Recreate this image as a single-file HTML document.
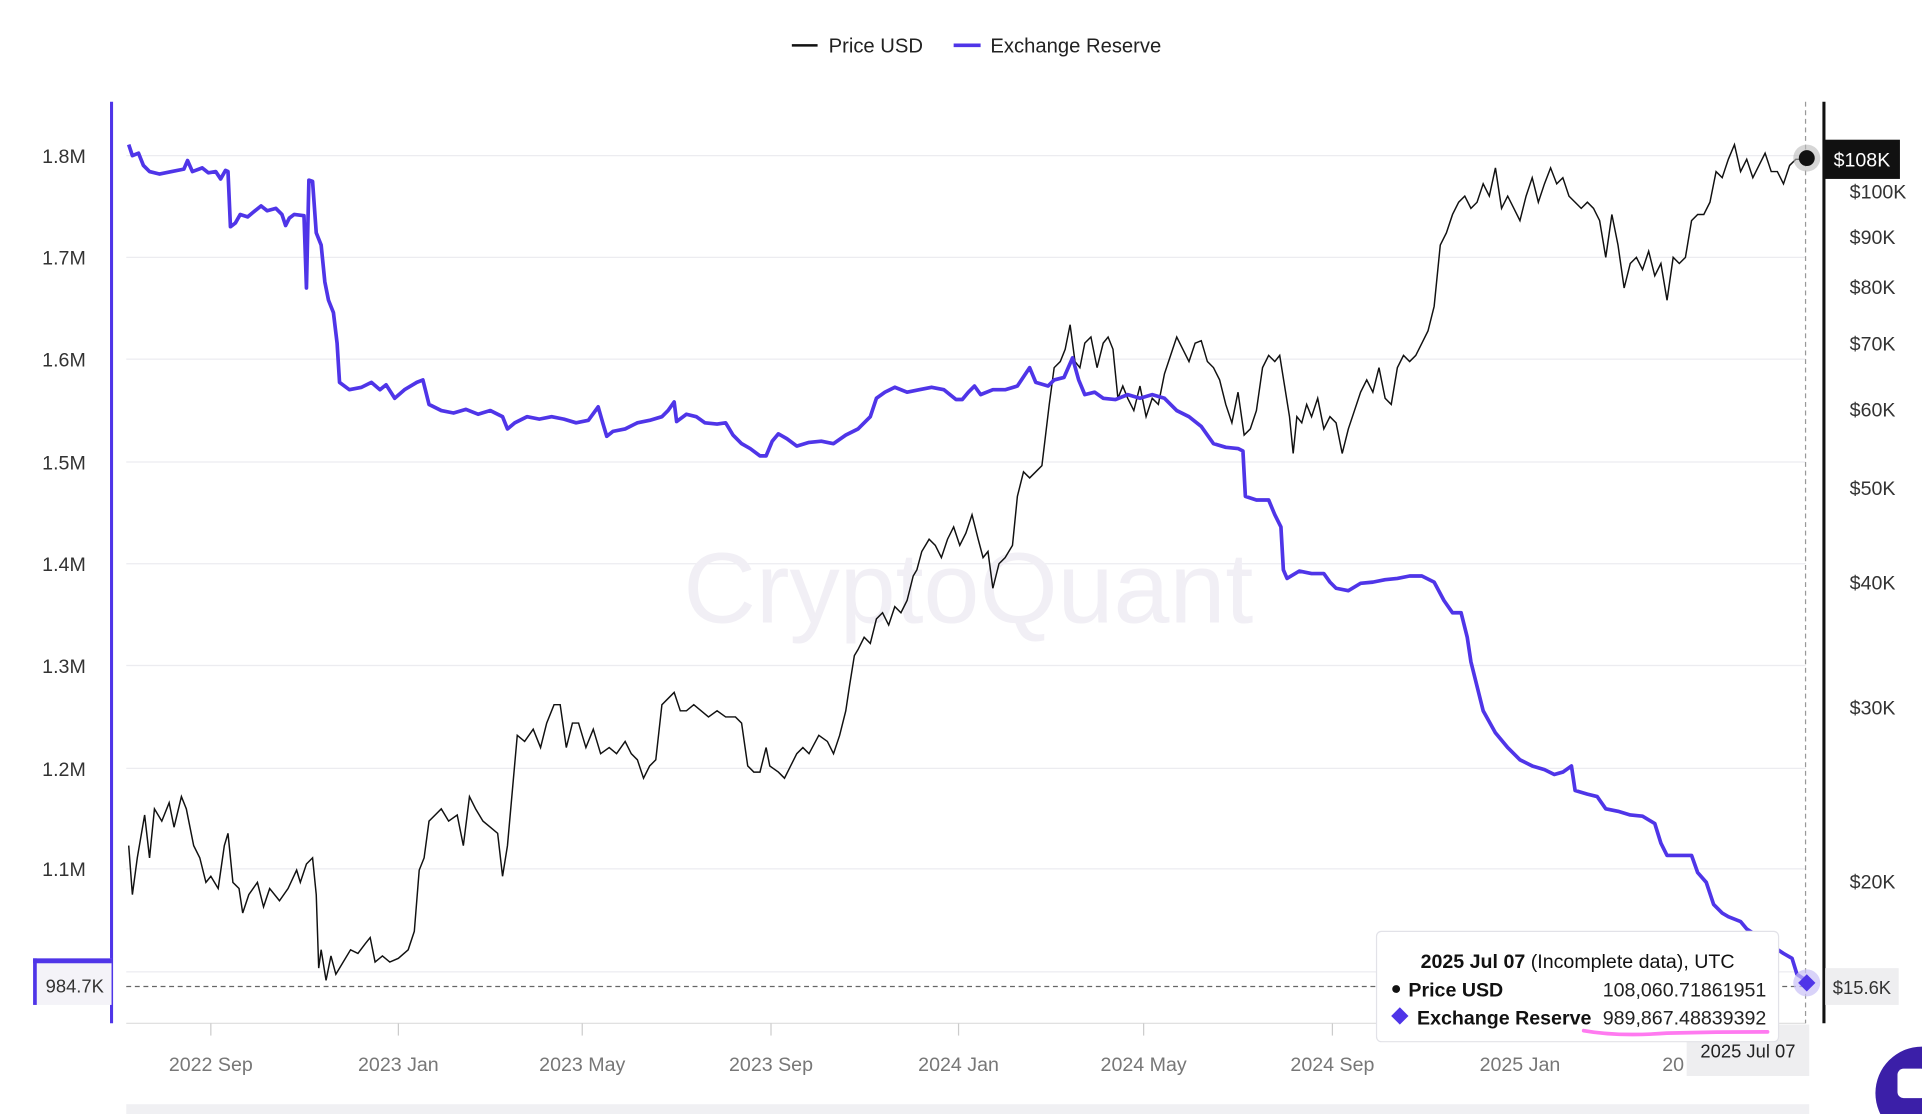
<!DOCTYPE html>
<html><head><meta charset="utf-8"><style>
html,body{margin:0;padding:0;background:#fff;width:1922px;height:1114px;overflow:hidden}
svg{display:block}
text{font-family:"Liberation Sans",sans-serif}
</style></head><body>
<svg width="1922" height="1114" viewBox="0 0 1568 909" preserveAspectRatio="none" xmlns="http://www.w3.org/2000/svg">
<rect width="1568" height="909" fill="#fff"/>
<!-- legend -->
<line x1="646" y1="37" x2="667" y2="37" stroke="#111" stroke-width="2"/>
<text x="676" y="43" font-size="16.5" fill="#222">Price USD</text>
<line x1="778" y1="37" x2="800" y2="37" stroke="#4f35e8" stroke-width="3"/>
<text x="808" y="43" font-size="16.5" fill="#222">Exchange Reserve</text>
<!-- grid -->
<g stroke="#ececf0" stroke-width="1">
<line x1="103" y1="127" x2="1473" y2="127"/><line x1="103" y1="210" x2="1473" y2="210"/>
<line x1="103" y1="293" x2="1473" y2="293"/><line x1="103" y1="377" x2="1473" y2="377"/>
<line x1="103" y1="460" x2="1473" y2="460"/><line x1="103" y1="543" x2="1473" y2="543"/>
<line x1="103" y1="627" x2="1473" y2="627"/><line x1="103" y1="709" x2="1473" y2="709"/>
<line x1="103" y1="793" x2="1473" y2="793"/>
</g>
<text x="790" y="508" font-size="82" fill="#f1eff5" text-anchor="middle">CryptoQuant</text>
<!-- left axis labels -->
<g font-size="16" fill="#333" text-anchor="end">
<text x="70" y="133">1.8M</text><text x="70" y="216">1.7M</text><text x="70" y="299">1.6M</text>
<text x="70" y="383">1.5M</text><text x="70" y="466">1.4M</text><text x="70" y="549">1.3M</text>
<text x="70" y="633">1.2M</text><text x="70" y="715">1.1M</text>
</g>
<!-- right labels -->
<g font-size="16" fill="#333">
<text x="1509" y="162">$100K</text><text x="1509" y="199">$90K</text><text x="1509" y="240">$80K</text>
<text x="1509" y="286">$70K</text><text x="1509" y="340">$60K</text><text x="1509" y="404">$50K</text>
<text x="1509" y="481">$40K</text><text x="1509" y="583">$30K</text><text x="1509" y="725">$20K</text>
</g>
<line x1="91" y1="83" x2="91" y2="835" stroke="#4f35e8" stroke-width="2.5"/>
<line x1="1488" y1="83" x2="1488" y2="835" stroke="#111" stroke-width="2.5"/>
<line x1="103" y1="835" x2="1473" y2="835" stroke="#ddd" stroke-width="1"/>
<line x1="1473" y1="83" x2="1473" y2="835" stroke="#999" stroke-dasharray="4,3" stroke-width="1"/>
<line x1="103" y1="805" x2="1473" y2="805" stroke="#666" stroke-dasharray="4,3" stroke-width="1"/>
<!-- x ticks -->
<g stroke="#ccc"><line x1="172" y1="835" x2="172" y2="845"/><line x1="325" y1="835" x2="325" y2="845"/><line x1="475" y1="835" x2="475" y2="845"/><line x1="629" y1="835" x2="629" y2="845"/><line x1="782" y1="835" x2="782" y2="845"/><line x1="933" y1="835" x2="933" y2="845"/><line x1="1087" y1="835" x2="1087" y2="845"/><line x1="1240" y1="835" x2="1240" y2="845"/></g>
<g font-size="16" fill="#777" text-anchor="middle">
<text x="172" y="874">2022 Sep</text><text x="325" y="874">2023 Jan</text><text x="475" y="874">2023 May</text>
<text x="629" y="874">2023 Sep</text><text x="782" y="874">2024 Jan</text><text x="933" y="874">2024 May</text>
<text x="1087" y="874">2024 Sep</text><text x="1240" y="874">2025 Jan</text><text x="1365" y="874">20</text>
</g>
<rect x="103" y="901" width="1373" height="8" fill="#f0f0f3"/>
<!-- price -->
<polyline fill="none" stroke="#111" stroke-width="1.2" points="105,690 108,730 112,700 118,665 122,700 126,660 132,670 138,655 142,675 148,650 152,660 158,690 163,700 168,720 172,715 178,725 183,690 186,680 190,720 195,725 198,745 203,730 210,720 215,740 220,725 228,735 235,725 242,710 245,720 250,705 255,700 258,730 260,790 262,775 266,800 270,780 274,795 280,785 286,775 292,778 298,770 302,765 306,785 312,780 318,785 325,782 333,775 338,760 342,710 346,700 350,670 355,665 360,660 366,670 373,665 378,690 383,650 388,660 394,670 400,675 406,680 410,715 414,690 418,645 422,600 428,605 435,595 441,610 446,590 452,575 457,575 462,610 467,590 472,590 478,610 484,595 490,615 497,610 503,615 510,605 515,615 520,620 525,635 530,625 535,620 540,575 545,570 550,565 555,580 560,580 566,575 572,580 578,585 585,580 592,585 600,585 605,590 610,625 615,630 620,630 625,610 628,625 635,630 640,635 645,625 650,615 655,610 660,615 668,600 675,605 680,615 685,600 690,580 693,560 697,535 700,530 705,520 710,525 715,505 720,500 725,510 730,495 735,500 740,490 745,470 748,465 752,450 758,440 763,445 768,455 773,440 778,430 783,445 788,435 793,420 798,440 802,455 806,450 810,480 815,460 820,455 826,445 830,405 835,385 840,390 845,385 850,380 853,355 856,330 860,300 865,295 869,285 873,265 877,295 881,300 885,280 890,275 895,300 900,280 904,275 908,285 912,325 916,315 920,325 925,335 930,315 935,340 940,325 945,330 950,305 955,290 960,275 965,285 970,295 975,280 980,278 985,295 990,300 995,310 1000,330 1005,345 1010,320 1015,355 1020,350 1025,335 1030,300 1035,290 1040,295 1044,290 1048,315 1052,340 1055,370 1058,340 1062,345 1066,330 1070,340 1075,325 1080,350 1085,340 1090,345 1095,370 1100,350 1105,335 1110,320 1115,310 1120,320 1125,300 1130,325 1135,330 1140,300 1145,290 1150,295 1155,290 1160,280 1165,270 1170,250 1175,200 1180,190 1185,175 1190,165 1195,160 1200,170 1205,165 1210,150 1215,160 1220,137 1225,170 1230,160 1235,170 1240,180 1245,160 1250,145 1255,165 1260,150 1265,137 1270,150 1275,145 1280,160 1285,165 1290,170 1295,165 1300,170 1305,180 1310,210 1315,175 1320,200 1325,235 1330,215 1335,210 1340,220 1345,205 1350,225 1355,215 1360,245 1365,210 1370,215 1375,210 1380,180 1385,175 1390,175 1395,165 1400,140 1405,145 1410,130 1415,118 1420,140 1425,130 1430,145 1435,135 1440,125 1445,140 1450,140 1455,150 1460,135 1465,130 1470,130 1475,129"/>
<!-- reserve -->
<polyline fill="none" stroke="#4f35e8" stroke-width="3" stroke-linejoin="round" points="105,118 108,127 113,125 117,135 122,140 130,142 140,140 150,138 153,131 157,140 165,137 170,141 176,140 180,146 184,139 186,140 188,185 192,182 196,175 202,177 208,172 213,168 218,172 225,170 230,175 233,184 236,178 240,175 248,176 250,235 252,147 255,148 258,190 262,200 265,230 268,245 272,255 275,280 277,312 285,318 295,316 303,312 310,318 315,314 322,325 330,318 340,312 345,310 350,330 360,335 370,337 380,334 390,338 400,335 410,340 414,350 420,345 430,340 440,342 450,340 460,342 470,345 480,343 488,332 492,346 495,356 500,352 510,350 520,345 530,343 540,340 545,335 550,328 552,344 560,338 568,340 575,345 585,346 592,345 598,355 605,362 612,366 620,372 625,372 630,360 635,354 642,358 650,364 660,361 670,360 680,362 690,355 700,350 710,340 715,325 722,320 730,316 740,320 750,318 760,316 770,318 780,326 785,326 790,320 795,315 800,322 810,318 820,318 830,315 840,300 845,312 855,315 860,310 868,308 875,292 880,310 885,322 893,320 900,325 910,326 920,322 930,325 940,322 950,325 960,335 970,340 980,348 985,355 990,362 1000,365 1010,366 1014,368 1016,405 1025,408 1035,408 1040,420 1045,430 1047,465 1050,472 1060,466 1070,468 1080,468 1085,475 1090,480 1100,482 1110,476 1120,475 1130,473 1140,472 1150,470 1160,470 1170,475 1178,490 1185,500 1192,500 1197,520 1200,540 1205,560 1210,580 1220,598 1230,610 1240,620 1250,625 1260,628 1268,632 1275,630 1282,625 1285,645 1295,648 1303,650 1310,660 1320,662 1330,665 1340,666 1350,672 1355,688 1360,698 1370,698 1380,698 1385,712 1392,720 1398,738 1405,745 1410,748 1420,752 1425,758 1455,778 1462,782 1466,795 1475,801"/>
<!-- markers -->
<circle cx="1474" cy="129" r="11" fill="#bbb" opacity="0.6"/><circle cx="1474" cy="129" r="6.5" fill="#111"/>
<circle cx="1474" cy="802" r="11" fill="#c9c1f7" opacity="0.7"/>
<rect x="1469" y="797" width="10" height="10" fill="#4f35e8" transform="rotate(45 1474 802)"/>
<!-- right value boxes -->
<rect x="1488" y="114" width="62" height="32" fill="#111"/>
<text x="1519" y="136" font-size="16" fill="#fff" text-anchor="middle">$108K</text>
<rect x="1489" y="790" width="60" height="30" fill="#eeeef0"/>
<text x="1519" y="811" font-size="15" fill="#333" text-anchor="middle">$15.6K</text>
<!-- left value box -->
<rect x="27" y="782" width="64" height="38" fill="#f4f3f8"/>
<rect x="27" y="782" width="64" height="4" fill="#4f35e8"/>
<rect x="27" y="782" width="3" height="38" fill="#4f35e8"/>
<text x="61" y="810" font-size="15" fill="#333" text-anchor="middle">984.7K</text>
<!-- date box -->
<rect x="1376" y="836" width="100" height="42" fill="#eeeef0"/>
<text x="1426" y="863" font-size="15" fill="#222" text-anchor="middle">2025 Jul 07</text>
<!-- tooltip -->
<rect x="1123" y="760" width="328" height="90" rx="4" fill="#fff" stroke="#e2e2e8"/>
<text x="1287" y="790" font-size="16" font-weight="bold" fill="#111" text-anchor="middle">2025 Jul 07 <tspan font-weight="normal">(Incomplete data), UTC</tspan></text>
<circle cx="1139" cy="807" r="3.2" fill="#111"/>
<text x="1149" y="813" font-size="16" font-weight="bold" fill="#111">Price USD</text>
<text x="1441" y="813" font-size="16" fill="#222" text-anchor="end">108,060.71861951</text>
<rect x="1137" y="824" width="10" height="10" fill="#4f35e8" transform="rotate(45 1142 829)"/>
<text x="1156" y="836" font-size="16" font-weight="bold" fill="#111">Exchange Reserve</text>
<text x="1441" y="836" font-size="16" fill="#222" text-anchor="end">989,867.48839392</text>
<path d="M1292,841 Q1320,846 1360,843 Q1400,842 1442,842" stroke="#ff7af0" stroke-width="3" fill="none" stroke-linecap="round"/>
<!-- chat bubble -->
<circle cx="1568" cy="892" r="38" fill="#3b1fa8"/>
<rect x="1548" y="872" width="24" height="24" rx="5" fill="#fff"/>
</svg>
</body></html>
